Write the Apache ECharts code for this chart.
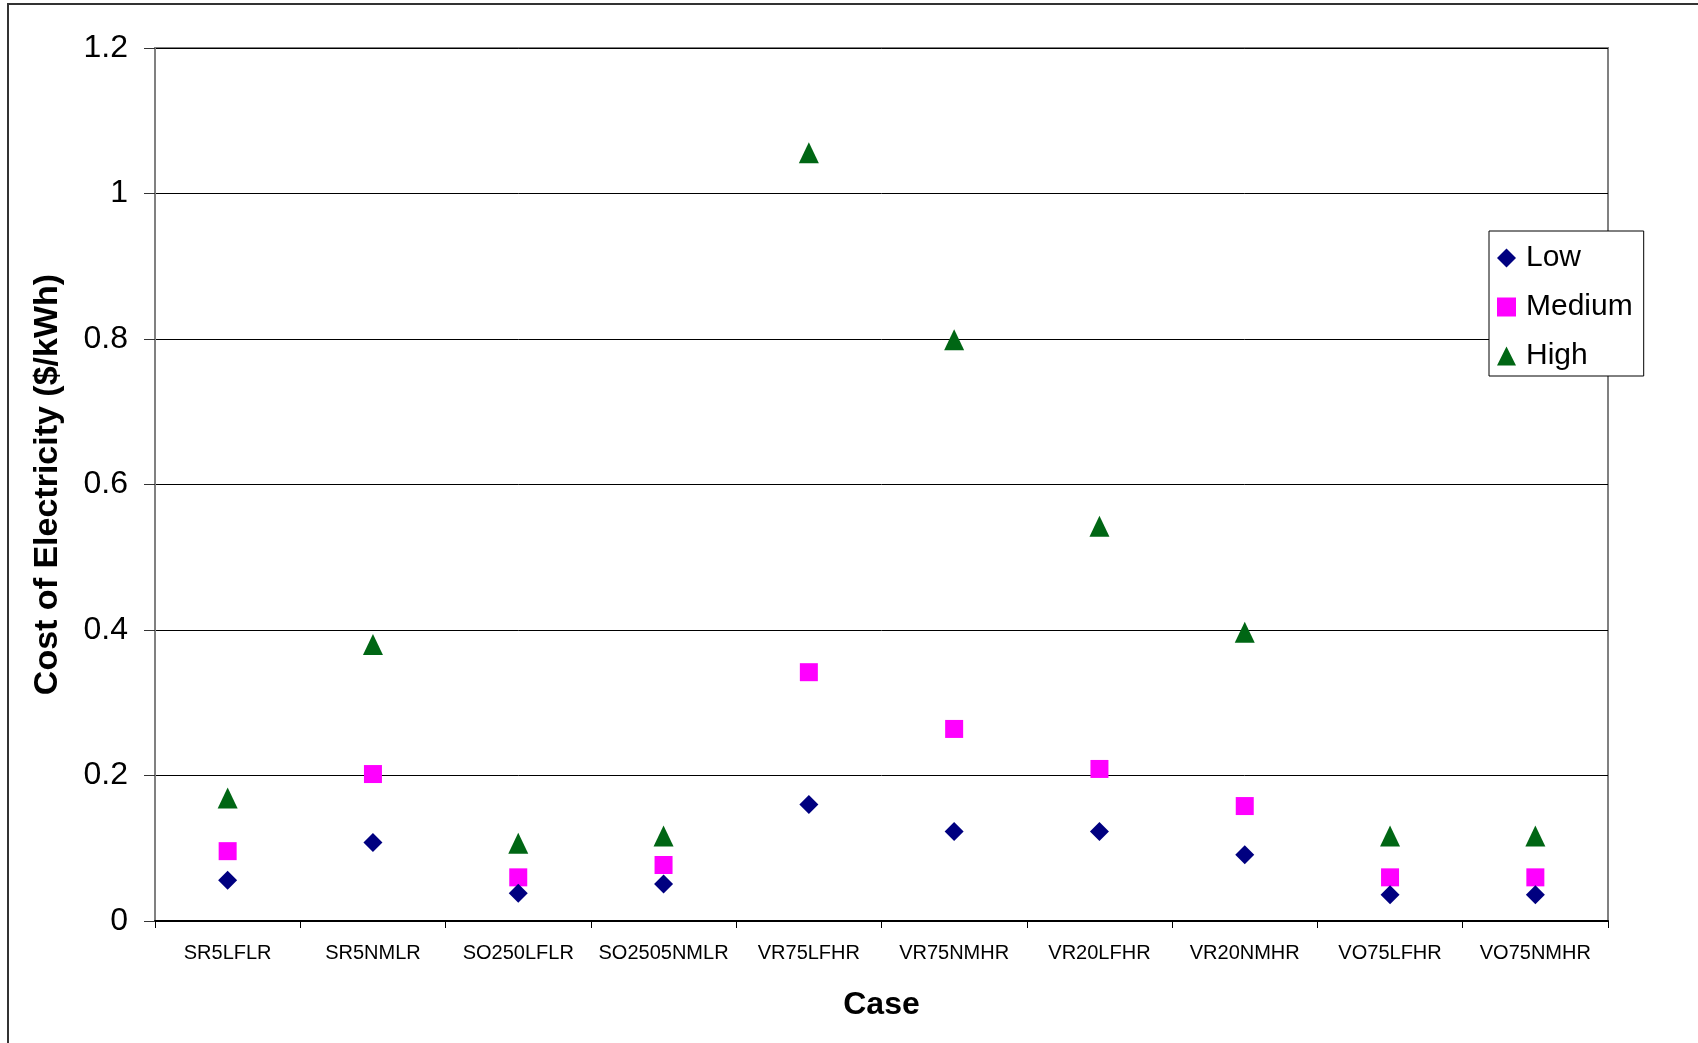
<!DOCTYPE html>
<html>
<head>
<meta charset="utf-8">
<script src="https://cdn.jsdelivr.net/npm/echarts@6/dist/echarts.min.js"></script>
<style>
html,body{margin:0;padding:0;background:#fff;}
#chart{width:1698px;height:1043px;}
</style>
</head>
<body>
<div id="chart"></div>
<script>
const categories = ['SR5LFLR','SR5NMLR','SO250LFLR','SO2505NMLR','VR75LFHR','VR75NMHR','VR20LFHR','VR20NMHR','VO75LFHR','VO75NMHR'];
const lowValues = [0.056, 0.108, 0.038, 0.051, 0.160, 0.123, 0.123, 0.091, 0.036, 0.036];
const mediumValues = [0.096, 0.202, 0.060, 0.077, 0.342, 0.264, 0.209, 0.158, 0.060, 0.060];
const highValues = [0.169, 0.380, 0.107, 0.117, 1.056, 0.799, 0.5425, 0.397, 0.117, 0.117];
const yTicks = [0, 0.2, 0.4, 0.6, 0.8, 1, 1.2];

const font = 'Liberation Sans, Arial, sans-serif';
const chart = echarts.init(document.getElementById('chart'));
chart.setOption({
  backgroundColor: '#fff',
  animation: false,
  graphic: [{
    type: 'polyline',
    shape: { points: [[8, 1045], [8, 4], [1700, 4]] },
    style: { stroke: '#333', lineWidth: 2, fill: null },
    z: 100
  }],
  grid: {
    left: 155, top: 48, right: 90, bottom: 122,
    show: true, borderColor: '#808080', borderWidth: 2, backgroundColor: '#fff'
  },
  legend: {
    orient: 'vertical',
    left: 1489, top: 231,
    padding: [12, 11, 5, 8],
    itemGap: 19,
    itemWidth: 19, itemHeight: 19,
    borderColor: '#000', borderWidth: 1,
    backgroundColor: '#fff',
    textStyle: { fontFamily: font, fontSize: 30, color: '#000', padding: [0, 0, 0, 5] },
    data: [
      { name: 'Low', icon: 'diamond' },
      { name: 'Medium', icon: 'rect' },
      { name: 'High', icon: 'triangle' }
    ]
  },
  xAxis: {
    type: 'category',
    data: categories,
    boundaryGap: true,
    name: 'Case',
    nameLocation: 'middle',
    nameGap: 68,
    nameTextStyle: { fontFamily: font, fontSize: 32, fontWeight: 'bold', color: '#000' },
    axisLine: { lineStyle: { color: '#000', width: 2 } },
    axisTick: { show: true, length: 7, lineStyle: { color: '#000', width: 1 } },
    axisLabel: { fontFamily: font, fontSize: 20, color: '#000', margin: 22, interval: 0 },
    splitLine: { show: false }
  },
  yAxis: {
    type: 'value',
    min: 0, max: 1.2, interval: 0.2,
    name: 'Cost of Electricity ($/kWh)',
    nameLocation: 'middle',
    nameRotate: 90,
    nameGap: 90,
    nameTextStyle: { fontFamily: font, fontSize: 34, fontWeight: 'bold', color: '#000' },
    axisLine: { show: true, lineStyle: { color: '#808080', width: 2 } },
    axisTick: { show: true, length: 11, lineStyle: { color: '#333', width: 1 } },
    axisLabel: {
      fontFamily: font, fontSize: 32, color: '#000', margin: 27,
      formatter: function (v) { const t = yTicks.find(x => Math.abs(x - v) < 1e-9); return String(t !== undefined ? t : v); }
    },
    splitLine: { show: true, lineStyle: { color: '#000', width: 1 } }
  },
  series: [
    { name: 'Low', type: 'scatter', data: lowValues, symbol: 'diamond', symbolSize: 19, itemStyle: { color: '#000080', opacity: 1 }, z: 3 },
    { name: 'Medium', type: 'scatter', data: mediumValues, symbol: 'rect', symbolSize: 18, itemStyle: { color: '#FF00FF', opacity: 1 }, z: 2 },
    { name: 'High', type: 'scatter', data: highValues, symbol: 'triangle', symbolSize: [20, 21], itemStyle: { color: '#006614', opacity: 1 }, z: 1 }
  ]
});
</script>
</body>
</html>
